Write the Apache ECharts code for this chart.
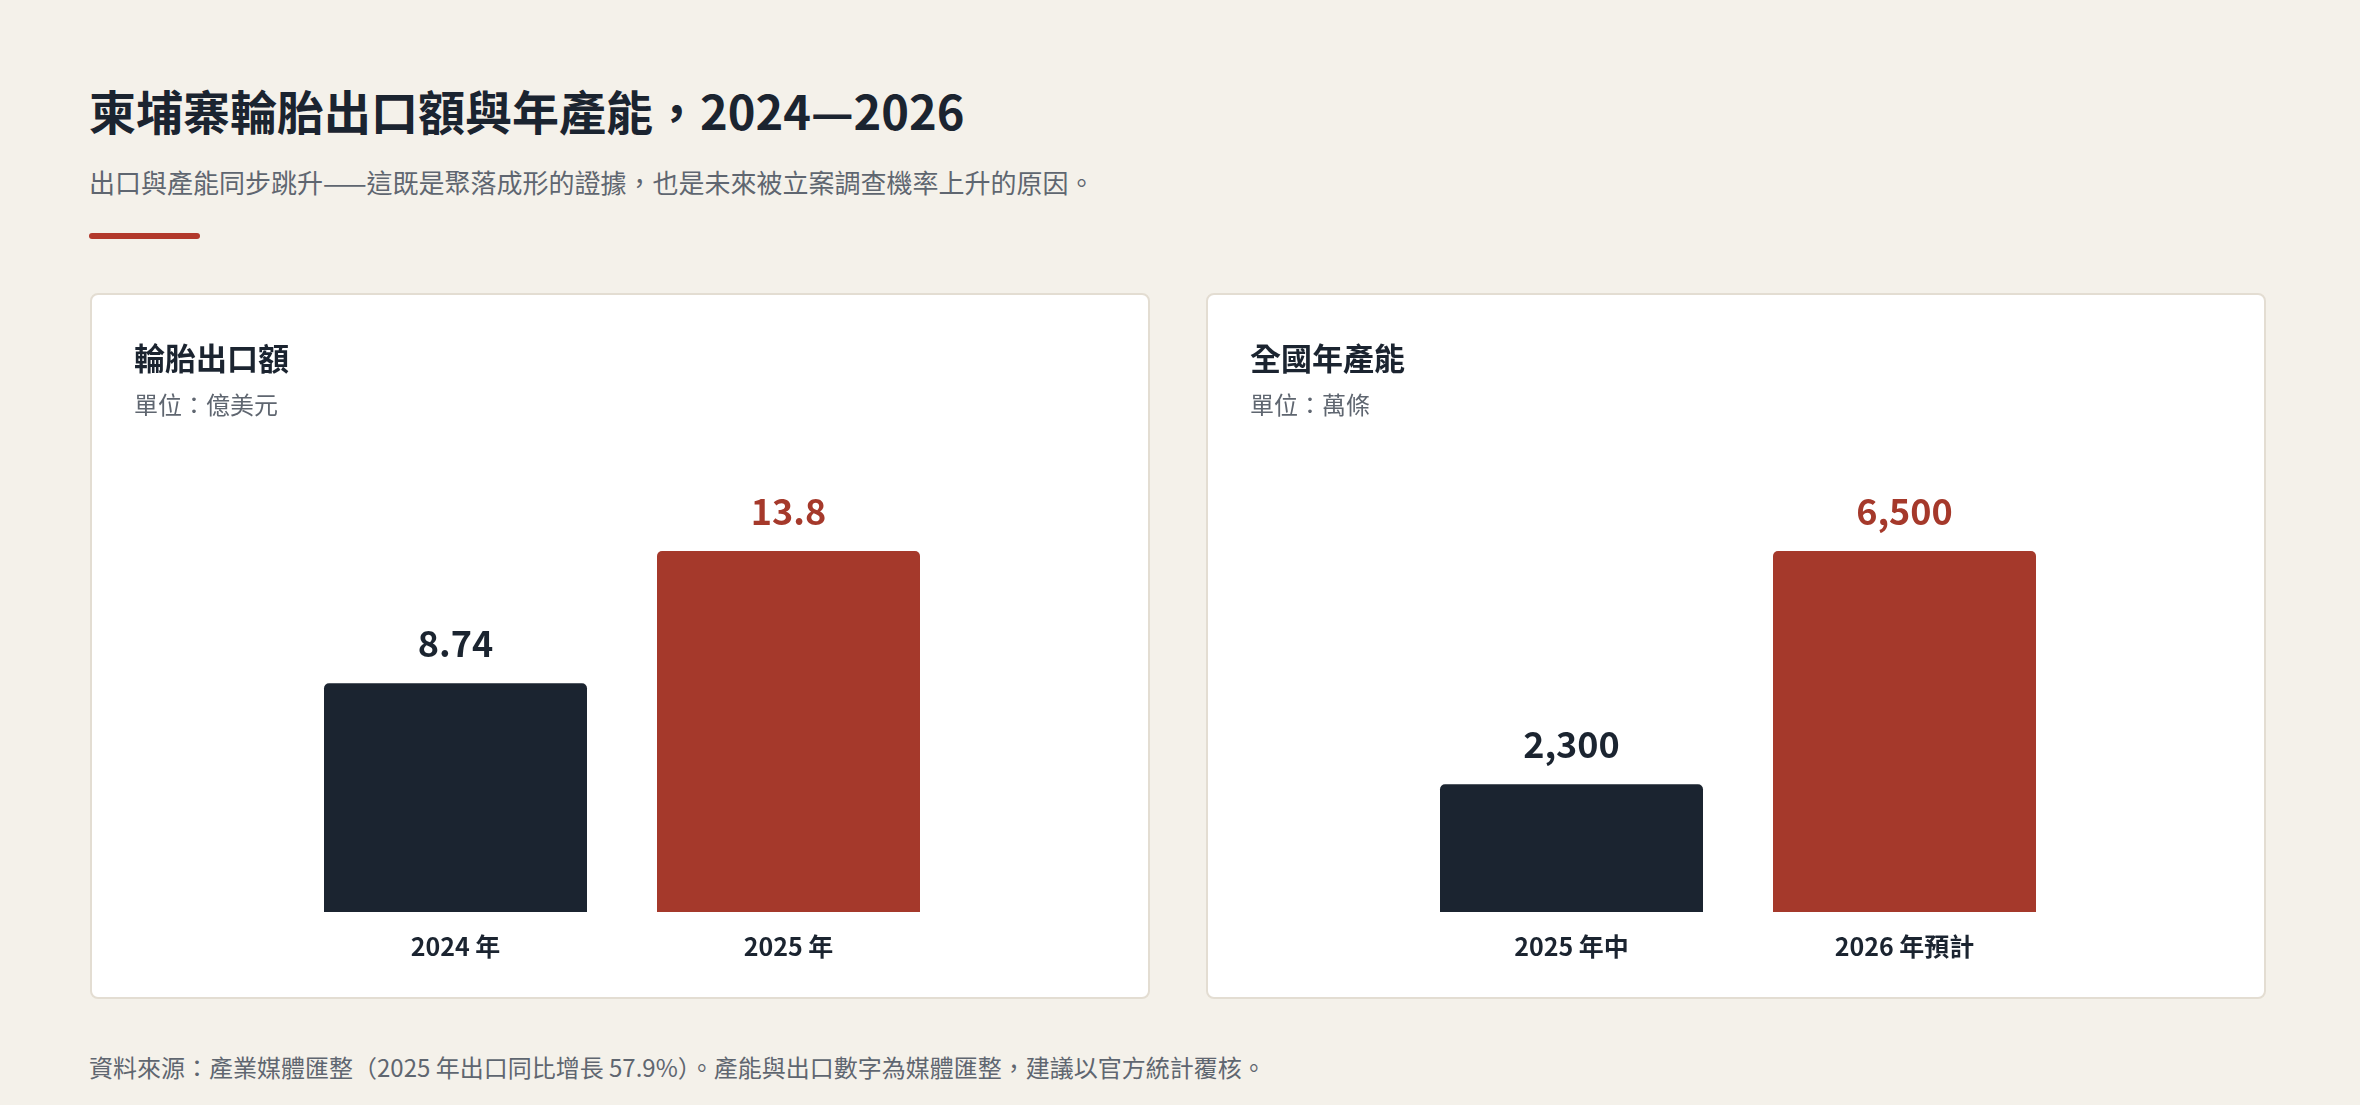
<!DOCTYPE html>
<html><head><meta charset="utf-8">
<script src="https://cdn.jsdelivr.net/npm/echarts@6/dist/echarts.min.js"></script>
<style>
html,body{margin:0;padding:0;background:#f4f1ea;width:2360px;height:1105px;overflow:hidden;font-family:"Noto Sans CJK TC","Noto Sans",sans-serif;color:#1b2430}
.t{position:absolute;left:89px;top:80px;font-size:47px;font-weight:700;line-height:60px}
.s{position:absolute;left:89px;top:164px;font-size:26px;color:#5f6670;line-height:36px}
.rl{position:absolute;left:89px;top:233px;width:111px;height:6px;background:#b2382b;border-radius:3px}
.card{position:absolute;top:293px;width:1060px;height:706px;background:#fff;border:2px solid #e3ddd2;border-radius:8px;box-sizing:border-box}
.ct{position:absolute;left:42px;top:42px;font-size:31px;font-weight:700;line-height:40px}
.cu{position:absolute;left:42px;top:93px;font-size:24px;color:#5f6670;line-height:32px}
.ch{position:absolute;left:0;top:0;width:1060px;height:706px}
.f{position:absolute;left:89px;top:1050px;font-size:24px;color:#5f6670;line-height:34px}
</style></head><body>
<div class="t">柬埔寨輪胎出口額與年產能，2024—2026</div>
<div class="s">出口與產能同步跳升——這既是聚落成形的證據，也是未來被立案調查機率上升的原因。</div>
<div class="rl"></div>
<div class="card" style="left:90px"><div class="ch" id="c1"></div><div class="ct">輪胎出口額</div><div class="cu">單位：億美元</div></div>
<div class="card" style="left:1206px"><div class="ch" id="c2"></div><div class="ct">全國年產能</div><div class="cu">單位：萬條</div></div>
<div class="f">資料來源：產業媒體匯整（2025 年出口同比增長 57.9%）。產能與出口數字為媒體匯整，建議以官方統計覆核。</div>
<script>
const exportCats=['2024 年','2025 年'];
const exportVals=[8.74,13.8];
const exportLabels=['8.74','13.8'];
const capCats=['2025 年中','2026 年預計'];
const capVals=[2300,6500];
const capLabels=['2,300','6,500'];
const colors=['#1b2430','#a5392b'];
function draw(id,cats,vals,labels){
  const c=echarts.init(document.getElementById(id));
  c.setOption({
    animation:false,
    grid:{left:197,right:197,top:256,bottom:89},
    xAxis:{type:'category',data:cats,axisLine:{show:false},axisTick:{show:false},
      axisLabel:{margin:22,fontSize:25,fontWeight:700,color:'#1b2430',fontFamily:'Noto Sans CJK TC'}},
    yAxis:{type:'value',min:0,max:Math.max(...vals),show:false,splitLine:{show:false}},
    series:[{type:'bar',barWidth:263,
      data:vals.map((v,i)=>({value:v,itemStyle:{color:colors[i],borderRadius:[5,5,0,0]},
        label:{show:true,position:'top',distance:22,formatter:labels[i],fontSize:36,fontWeight:700,
          color:i?'#a5392b':'#1b2430',fontFamily:'Noto Sans CJK TC'}}))}]
  });
}
draw('c1',exportCats,exportVals,exportLabels);
draw('c2',capCats,capVals,capLabels);
</script></body></html>
